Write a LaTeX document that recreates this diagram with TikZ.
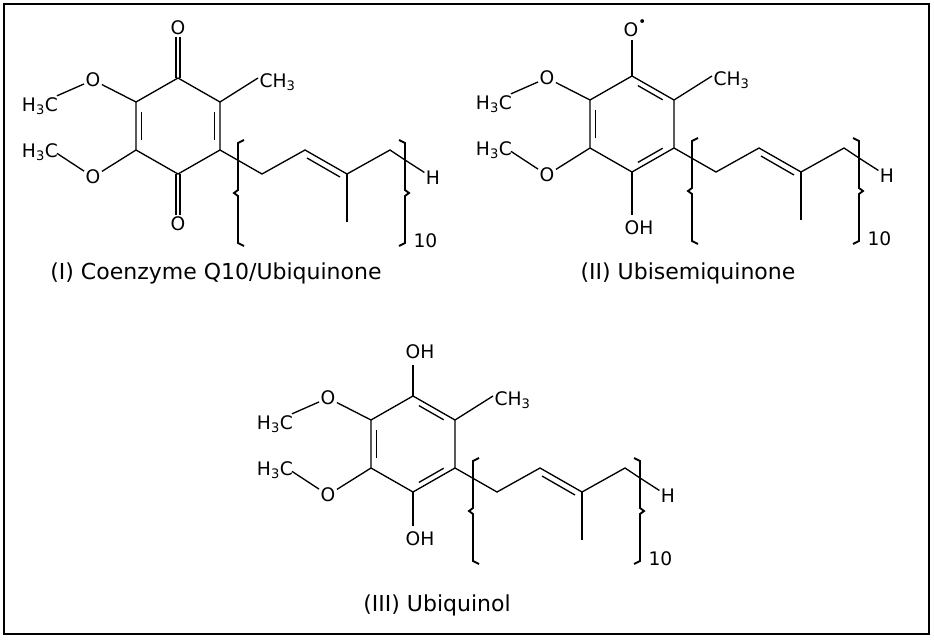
\documentclass[tikz,border=0pt]{standalone}
\usepackage{fontspec}
\setmainfont{DejaVu Sans}
\usetikzlibrary{calc}
\tikzset{atom/.style={inner sep=1pt,font=\fontsize{14}{16}\selectfont},
 bond/.style={line width=1pt},
 lbl/.style={font=\fontsize{16.5}{19}\selectfont}}
\newcommand\skel[1]{%
 \coordinate (#1t) at (0,0); \coordinate (#1ur) at (42,24); \coordinate (#1lr) at (42,72);
 \coordinate (#1b) at (0,96); \coordinate (#1ll) at (-42,72); \coordinate (#1ul) at (-42,24);
 \coordinate (#1c) at (0,48);
 \node[atom] (#1Oa) at (-85,2) {O}; \node[atom] (#1Ma) at (-138,28) {H\textsubscript{3}C};
 \node[atom] (#1Ob) at (-85,99) {O}; \node[atom] (#1Mb) at (-138,74) {H\textsubscript{3}C};
 \draw[bond] (#1ul) -- (#1Oa) -- ([xshift=-2pt,yshift=0pt]#1Ma.north east);
 \draw[bond] (#1ll) -- (#1Ob) -- ([xshift=-2pt,yshift=-1pt]#1Mb.east);
 \node[atom,anchor=west] (#1Me) at (80,4) {CH\textsubscript{3}};
 \draw[bond] (#1ur) -- (80,0);
 \coordinate (#1c1) at (84,96); \coordinate (#1c2) at (127,72); \coordinate (#1c3) at (169,96);
 \coordinate (#1c4) at (212,72); \coordinate (#1c5) at (227,82); \coordinate (#1m) at (169,144);
 \node[atom] (#1H) at (255,100) {H};
 \draw[bond] (#1lr) -- (#1c1) -- (#1c2) -- (#1c3) -- (#1c4) -- (#1c5) -- (#1H);
 \draw[bond] (129,80) -- (162,99);
 \draw[bond] (#1c3) -- (#1m);
 \draw[line width=1.4pt] (66,62) -- (60,65) -- (60,112) -- (56,115) -- (60,118) -- (60,165) -- (66,168);
 \draw[line width=1.4pt] (221,62) -- (227,65) -- (227,112) -- (231,115) -- (227,118) -- (227,165) -- (221,168);
 \node[atom,anchor=west] (#1n) at (234,163) {10};
}
\newcommand\dbl[3]{\draw[bond] ($($(#1#2)!0.16!(#1#3)$)!0.13!(#1c)$) -- ($($(#1#3)!0.16!(#1#2)$)!0.13!(#1c)$);}
\begin{document}
\begin{tikzpicture}[x=0.75pt,y=-0.75pt]
\useasboundingbox (0,0) rectangle (934,640);
\draw[line width=1.2pt] (4,4) rectangle (929,634);
% I
\begin{scope}[shift={(178,78)}]
 \skel{a}
 \draw[bond] (at) -- (aur) -- (alr) -- (ab) -- (all) -- (aul) -- cycle;
 \dbl{a}{ur}{lr} \dbl{a}{ll}{ul}
 \node[atom] (aOt) at (0,-50) {O}; \node[atom] (aOd) at (0,146) {O};
 \draw[bond] ([xshift=-1.6pt]at) -- ([xshift=-1.6pt]aOt.south); \draw[bond] ([xshift=1.6pt]at) -- ([xshift=1.6pt]aOt.south);
 \draw[bond] ([xshift=-1.6pt]ab) -- ([xshift=-1.6pt]aOd.north); \draw[bond] ([xshift=1.6pt]ab) -- ([xshift=1.6pt]aOd.north);
 \node[lbl] (alab) at (38,195) {(I) Coenzyme Q10/Ubiquinone};
\end{scope}
% II
\begin{scope}[shift={(632,76)}]
 \skel{b}
 \draw[bond] (bt) -- (bur) -- (blr) -- (bb) -- (bll) -- (bul) -- cycle;
 \dbl{b}{t}{ur} \dbl{b}{lr}{b} \dbl{b}{ll}{ul}
 \node[atom] (bOt) at (3,-48) {O\raisebox{1ex}{\fontsize{10}{10}\selectfont•}};
 \draw[bond] (bt) -- (0,-36);
 \node[atom,anchor=west] (bOH) at (-9,152) {OH};
 \draw[bond] (bb) -- (0,139);
 \node[lbl] (blab) at (56,197) {(II) Ubisemiquinone};
\end{scope}
% III
\begin{scope}[shift={(413,396)}]
 \skel{c}
 \draw[bond] (ct) -- (cur) -- (clr) -- (cb) -- (cll) -- (cul) -- cycle;
 \dbl{c}{t}{ur} \dbl{c}{lr}{b} \dbl{c}{ll}{ul}
 \node[atom,anchor=west] (cOHt) at (-9,-44) {OH};
 \draw[bond] (ct) -- (0,-31);
 \node[atom,anchor=west] (cOH) at (-9,143) {OH};
 \draw[bond] (cb) -- (0,130);
 \node[lbl] (clab) at (24,209) {(III) Ubiquinol};
\end{scope}
\end{tikzpicture}
\end{document}
